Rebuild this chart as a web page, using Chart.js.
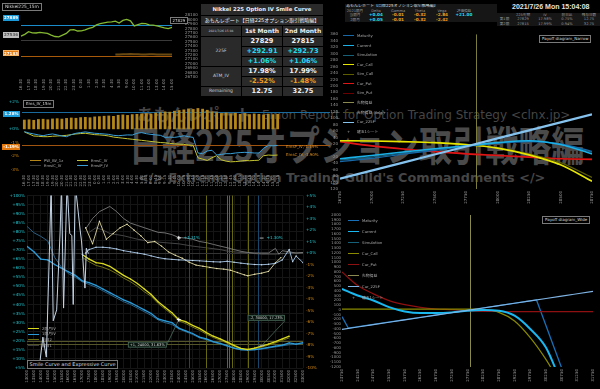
<!DOCTYPE html>
<html lang="ja"><head><meta charset="utf-8">
<title>Nikkei 225 Option IV Smile Curve</title>
<script src="https://cdn.jsdelivr.net/npm/chart.js@4.4.1/dist/chart.umd.min.js"></script>
<style>
*{box-sizing:border-box}
html,body{margin:0;padding:0;background:#000;overflow:hidden}
#root{position:relative;width:600px;height:389px;background:#000;font-family:"DejaVu Sans","Noto Sans CJK JP",sans-serif;color:#ccc;overflow:hidden}
canvas{position:absolute;display:block}
.wm{position:absolute;white-space:nowrap;line-height:1;color:#454545}
.box{position:absolute;white-space:nowrap;line-height:1;border:1px solid #7a7a7a;color:#ddd;background:#000;font-size:4px;padding:1px 2px}
.tag{position:absolute;white-space:nowrap;font-size:4px;line-height:5px;height:6px;text-align:center;color:#fff;font-weight:bold}
.lg{position:absolute;white-space:nowrap;font-size:3.8px;line-height:4px;color:#aaa}
.lg i{display:inline-block;width:11px;vertical-align:middle;margin-right:3px}
.txt{position:absolute;white-space:nowrap;line-height:1}
table.iv{position:absolute;left:200px;top:3px;width:121px;border-collapse:separate;border-spacing:1px;table-layout:fixed;background:#000}
table.iv td{background:#2a2a2a;padding:0;text-align:center;vertical-align:middle;line-height:1;white-space:nowrap;overflow:hidden}
.ttl{font-size:5.3px;font-weight:bold;color:#eee}
.sub{font-size:5px;color:#eee}
.dt{font-size:3px;color:#ccc}
.hd{font-size:6px;font-weight:bold;color:#eee}
.w{font-size:6.6px;font-weight:bold;color:#f2f2f2}
.c{color:#22dcee !important}
.o{color:#f0a020 !important}
.lb{font-size:4.5px;color:#cfcfcf}
table.hdr{position:absolute;border-collapse:separate;border-spacing:0.5px;table-layout:fixed;background:#333}
table.hdr td{background:#161616;padding:0 1px;font-size:3.6px;line-height:4.4px;height:4.6px;color:#999;white-space:nowrap;overflow:hidden;text-align:center}
table.hdr td.v{font-size:4.2px;font-weight:bold}
</style></head>
<body><div id="root">
<div class="wm" style="left:137px;top:106px;font-size:16.5px;font-weight:bold;font-family:'Noto Sans CJK JP',sans-serif">あもんレポート</div>
<div class="wm" style="left:262px;top:109px;font-size:12px;font-family:'DejaVu Sans',sans-serif">Emon Report for Option Trading Strategy &lt;clnx.jp&gt;</div>
<div class="wm" style="left:129px;top:122px;font-size:35px;font-weight:bold;font-family:'Noto Sans CJK JP',sans-serif;transform:scale(0.945,1.18);transform-origin:left top;color:#4a4a4a">日経225オプション取引戦略編</div>
<div class="wm" style="left:138px;top:172px;font-size:12.8px;font-weight:bold;font-family:'DejaVu Sans',sans-serif">&lt;/&gt; Extreme Option Trading Guild's Commandments &lt;/&gt;</div>

<canvas id="cA" width="200" height="95" style="left:0;top:0"></canvas>
<canvas id="cD" width="330" height="95" style="left:0;top:95px"></canvas>
<canvas id="cG" width="330" height="199" style="left:0;top:190px"></canvas>
<canvas id="cE" width="270" height="176" style="left:330px;top:30px"></canvas>
<canvas id="cF" width="270" height="183" style="left:330px;top:206px"></canvas>

<table class="iv">
<colgroup><col style="width:40px"><col style="width:40px"><col style="width:40px"></colgroup>
<tr style="height:11px"><td colspan="3" class="ttl">Nikkei 225 Option IV Smile Curve</td></tr>
<tr style="height:9px"><td colspan="3" class="sub">あもんレポート【日経225オプション取引戦略編】</td></tr>
<tr style="height:10px"><td class="dt">2021/7/26 15:04</td><td class="hd">1st Month</td><td class="hd">2nd Month</td></tr>
<tr style="height:9px"><td rowspan="3" class="lb">225F</td><td class="w">27829</td><td class="w">27815</td></tr>
<tr style="height:9px"><td class="w c">+292.91</td><td class="w c">+292.73</td></tr>
<tr style="height:9px"><td class="w c">+1.06%</td><td class="w c">+1.06%</td></tr>
<tr style="height:9px"><td rowspan="2" class="lb">ATM_IV</td><td class="w">17.98%</td><td class="w">17.99%</td></tr>
<tr style="height:9px"><td class="w o">-2.52%</td><td class="w o">-1.48%</td></tr>
<tr style="height:9px"><td class="lb">Remaining</td><td class="w">12.75</td><td class="w">32.75</td></tr>
</table>

<table class="hdr" style="left:345px;top:4px;width:152px">
<colgroup><col style="width:20px"><col style="width:22px"><col style="width:22px"><col style="width:22px"><col style="width:22px"><col style="width:22px"><col style="width:22px"></colgroup>
<tr><td colspan="7" style="text-align:left;color:#ddd;font-size:4px">あもんレポート【日経225オプション取引戦略編】</td></tr>
<tr><td>2021限月</td><td>Delta</td><td>Gamma</td><td>Theta</td><td>Vega</td><td>評価損益</td><td></td></tr>
<tr><td>当限月</td><td class="v c">+0.04</td><td class="v o">-0.01</td><td class="v o">-0.32</td><td class="v o">-2.84</td><td class="v c">+21.00</td><td></td></tr>
<tr><td>2限月</td><td class="v c">+0.05</td><td class="v o">-0.01</td><td class="v o">-0.32</td><td class="v o">-2.42</td><td></td><td></td></tr>
</table>
<table class="hdr" style="left:497px;top:12.5px;width:103px">
<colgroup><col style="width:15px"><col style="width:22px"><col style="width:22px"><col style="width:22px"><col style="width:22px"></colgroup>
<tr><td></td><td>225先物</td><td>IV</td><td>前日比</td><td>残存日数</td></tr>
<tr><td>第1限</td><td>27829</td><td>17.98%</td><td>0.75%</td><td>12.75</td></tr>
<tr><td>第2限</td><td>27815</td><td>17.99%</td><td>0.94%</td><td>32.75</td></tr>
</table>
<div class="txt" style="left:512px;top:3px;font-size:7px;font-weight:bold;color:#e2e2e2;font-family:'Liberation Sans',sans-serif">2021/7/26 Mon 15:04:08</div>

<div class="box" style="left:2px;top:3px;font-size:4.4px">Nikkei225_15m</div>
<div class="tag" style="left:3px;top:14.5px;width:16px;background:#1a9ad8">27889</div>
<div class="tag" style="left:3px;top:32px;width:16px;background:#bdbdbd;color:#555">27536</div>
<div class="tag" style="left:3px;top:50px;width:16px;background:#e2780e;border:0.5px solid #f5b060">27183</div>
<div class="box" style="left:170px;top:17px;padding:0.5px 1.5px">27829</div>

<div class="box" style="left:23px;top:100px">Ems_IV_15m</div>
<div class="tag" style="left:3px;top:110.5px;width:17px;background:#1a9ad8">1.28%</div>
<div class="tag" style="left:2px;top:144px;width:18px;background:#e2780e">-1.19%</div>
<div class="txt" style="left:286px;top:145px;font-size:4px;color:#e09020">EmsP_IV,-1.19%</div>
<div class="txt" style="left:286px;top:153px;font-size:4px;color:#e09020">EmsC_IV,-1.90%</div>

<div class="box" style="left:539px;top:35px">Payoff diagram_Narrow</div>
<div class="box" style="left:542px;top:216px">Payoff diagram_Wide</div>
<div class="box" style="left:27px;top:360px;font-size:5px;padding:1px 1.5px">Smile Curve and Expressive Curve</div>

<script>
// ---------------- data ----------------
const nkTimes=['16:30','17:00','17:30','18:00','18:30','19:00','19:30','20:00','20:30','21:00','21:30','22:00','22:30','23:00','23:30','0:00','0:30','1:00','1:30','2:00','2:30','3:00','3:30','4:00','4:30','5:00','5:30','6:00','9:00','9:30','10:00','10:30','11:00','11:30','12:00','12:30','13:00','13:30','14:00','14:30','15:00'];
const nk225=[27630,27670,27730,27705,27700,27715,27705,27690,27650,27620,27612,27650,27690,27770,27775,27745,27750,27770,27805,27830,27885,27915,27930,27945,27955,27970,27925,27985,28010,27975,27860,27890,27920,27915,27885,27880,27860,27840,27815,27800,27829];
const nkDay=[null,null,null,null,null,null,null,null,null,null,null,null,null,null,null,null,null,null,null,null,null,null,null,null,null,27210,27212,27215,27218,27220,27218,27215,27212,27214,27216,27215,27213,27212,27210,27212,27210];
const nkLevels=[27889,27536,27183];

const emsTimes=['16:30','17:00','17:30','18:00','18:30','19:00','19:30','20:00','20:30','21:00','21:30','22:00','22:30','23:00','23:30','0:00','0:30','1:00','1:30','2:00','2:30','3:00','3:30','4:00','4:30','5:00','5:30','6:00','8:45','9:00','9:15','9:30','9:45','10:00','10:15','10:30','10:45','11:00','11:15','11:30','11:45','12:00','12:15','12:30','12:45','13:00','13:15','13:30','13:45','14:00','14:15','14:30','14:45','15:00','15:15'];
const pwBars=[0.70,0.72,0.68,0.74,0.76,0.72,0.78,0.80,0.77,0.82,0.85,0.83,0.88,0.90,0.87,0.93,0.95,0.98,1.00,0.97,1.05,1.08,1.04,1.10,1.12,1.15,1.18,1.14,1.22,1.25,1.30,1.28,1.35,1.40,1.45,1.52,1.48,1.55,1.50,1.42,1.30,1.25,1.18,1.22,1.15,1.20,1.12,1.18,1.10,1.15,1.12,1.08,1.14,1.10,1.12];
const emsP=[-0.18,-0.28,-0.35,-0.42,-0.48,-0.4,-0.35,-0.42,-0.5,-0.55,-0.4,-0.3,-0.25,-0.2,-0.25,-0.3,-0.32,-0.35,-0.38,-0.45,-0.48,-0.45,-0.42,-0.43,-0.3,-0.25,-0.33,-0.38,-0.42,-0.45,-0.6,-0.58,-0.6,-0.55,-0.48,-0.55,-0.6,-1.75,-1.8,-1.6,-1.55,-1.9,-1.85,-1.8,-1.8,-1.75,-1.72,-1.7,-1.72,-1.75,-1.75,-1.4,-1.2,-1.22,-1.19];
const emsC=[-0.2,-0.35,-0.5,-0.52,-0.55,-0.55,-0.52,-0.5,-0.48,-0.45,-0.4,-0.35,-0.32,-0.3,-0.35,-0.4,-0.42,-0.45,-0.5,-0.58,-0.62,-0.66,-0.7,-0.74,-0.78,-0.82,-0.86,-0.9,-0.94,-0.98,-1.0,-1.04,-1.08,-1.1,-1.12,-1.16,-1.2,-2.1,-2.2,-2.3,-2.1,-1.95,-2.25,-2.35,-2.4,-2.38,-2.35,-2.3,-2.32,-2.3,-2.28,-1.95,-1.9,-1.92,-1.9];
const emsLevels=[1.28,-1.19];

const nK=[26750,27000,27250,27500,27750,28000,28250,28500,28750];
const nMaturity=[-35,-25,-12,0,12,22,27,20,-3];
const nCurrent=[-26,-16,-5,5,14,24,30,18,-11];
const nSimulation=[-30,-21,-9,2,13,23,29,19,-6];
const nCurCall=[30,29,27,24,18,7,-14,-45,-96];
const nSimCall=[30,29,27,24,18,8,-11,-38,-84];
const nCurPut=[27,14,4,-4,-11,-16,-21,-26,-28];
const nSimPut=[28,15,5,-3,-10,-15,-20,-25,-27];
const n225F=[-88,-63,-38,-13,12,37,62,87,112];
const futNow=27829;

const wK=[23750,24250,24750,25250,25750,26250,26750,27250,27750,28250,28750,29250,29750,30250,30750,31250,31750];
const wCurrent=[445,305,200,60,-30,-65,-65,-50,-15,0,-15,-120,-400,-790,-1550,null,null];
const wCurCall=[20,20,20,20,20,20,20,20,18,10,-50,-230,-580,-1040,-1600,null,null];
const wCurPut=[800,516,340,198,113,57,21,7,-14,-28,-32,-34,-35,-35,-35,-35,-35];
const w225F=[-408,-358,-308,-258,-208,-158,-108,-58,-8,42,92,142,192,242,292,342,392];
const wMatK=[23750,23950,29950,30750];
const wMaturity=[-140,-380,212,-1220];

const smileK=[13000,13500,14000,14500,15000,15500,16000,16500,17000,17500,18000,18500,19000,19500,20000,20500,21000,21500,22000,22500,23000,23500,24000,24500,25000,25500,26000,26500,27000,27500,28000,28500,29000,29500,30000,30500,31000,31500,32000,32500,33000];
const ivFront=[72,69,65,64.5,62,60,58,56,53,52,50.5,48.5,46.5,44.5,42.5,41,39,37,35,32,31,30,27,25.5,24,22,21,19.5,18.5,17.3,16,15.2,15,15.2,15.7,16.3,17,17.6,18.8,18.2,19];
const ivPrev1=[83,79.5,77.5,75,66,60.5,57,55,52.5,51,49.5,47.5,45.5,43.5,41.5,40,38,36,34,31.5,30,29,26.5,25,23.5,21.6,20.5,19.2,18.2,17,15.8,15,14.8,15,15.4,16,16.6,17.2,17.8,18,18.5];
const ivBack=[null,null,null,null,null,null,null,null,67.5,65,63,62.5,61,58.5,56,54,51.5,48.5,45.5,41.5,38.5,35.5,31.6,30.5,28.5,26.8,24.5,22.5,21,19.3,17.5,15.8,15.2,16,17,18.2,19.5,21,22.5,null,null];
const ivPrev2=[null,null,null,null,null,null,null,null,66,63.5,61.5,60.5,59,57,54.5,52.5,50,47,44.5,40.5,37.5,34.5,31,29.5,27.5,25.8,23.6,21.8,20.3,18.7,17,15.4,15,15.6,16.5,17.6,18.8,20.2,21.6,null,null];
const spikeK=[13900,14150,14400,14650,14750,14900,15150,15400,15500,15650,15900,16100,16250,16350,16500,16850,16950,17200,17300,17450];
const spikeIV=[6,22,11,76,106,31,37,80,106,38,106,79,78,40,106,81,75,49,71,68];
const chg1K=[17250,17500,18000,18500,19000,19500,20000,20500,21000,21500,22000,22500,23000,23500,24000,24500,25000,25500,26000,26500,27000,27500,28000,28500,29000,29500,30000,30500,31000,31500,32000,32250,32500,33000];
const chg1=[0.0,0.3,0.5,0.5,0.45,0.35,0.2,0.1,0.0,-0.1,-0.25,-0.4,-0.5,-0.55,-0.6,-0.62,-0.65,-0.68,-0.72,-0.76,-0.78,-0.72,-0.8,-0.88,-0.95,-1.0,-1.02,-0.98,-0.9,-0.6,0.32,-0.75,-0.26,-0.84];
const chg2K=[17250,17750,18250,18750,19250,19750,20250,20750,21250,21750,22250,22750,23250,23750,24250,24750,25250,25750,26250,26750,27250,27750,28250,28750,29000,29500,30000,30500,31000,31400];
const chg2=[2.2,0.8,2.76,1.2,1.7,2.2,2.5,2.0,1.5,0.9,1.0,0.6,0.1,-0.2,-0.45,-0.8,-1.05,-1.15,-1.25,-1.35,-1.4,-1.5,-1.7,-1.9,-1.98,-1.85,-1.75,-1.6,-0.85,-0.4];
const g1K=[17250,17750,18250,19000,19500,20000,20500,21000,21500,22000,22500,23000,23500,24000,24500,25000,25500,26000,26500,27000,27500,28000,28500,29000,29500,30000,30500,31000,31250,31500,32000,32500,33000];
const g1=[2.1,3.0,3.6,4.05,3.6,3.0,2.6,2.4,2.2,2.0,1.8,1.75,1.6,1.35,1.3,1.2,1.0,0.9,0.75,0.6,0.46,0.3,0.15,0.05,0,0,0,0.4,-0.1,0.2,0.1,0,0.05];
const g2K=[17500,18000,18500,19000,20000,21000,22000,22500,23000,24000,25000,26000,27000,27500,28000,29000,30000,31000,32000,33000];
const g2=[1.8,2.2,2.0,1.7,1.5,1.2,1.0,0.95,0.9,0.8,0.6,0.45,0.3,0.17,0.1,0,-0.1,-0.1,0,0];
const posStrikesBlue=[24750,29750];
const posStrikesYellow=[26000,27500,27625,27829,29000];
const atmLevels=[20.1,17.98];
const smileNotes=[
  {k:24000,v:31.63,axis:'y',glyph:'+',text:'+1, 24000, 31.63%',box:true,dx:-51,dy:22},
  {k:30000,v:17.23,axis:'y',glyph:'-',text:'-2, 30000, 17.23%',box:true,dx:-14,dy:-31},
  {k:24000,v:1.31,axis:'y2',glyph:'+',text:'+1.31%'},
  {k:30000,v:1.30,axis:'y2',glyph:'-',text:'+1.30%'}
];

// ---------------- helpers ----------------
const FONT="'DejaVu Sans','Noto Sans CJK JP',sans-serif";
Chart.defaults.font.family=FONT;
Chart.defaults.font.size=4;
Chart.defaults.color='#9a9a9a';
Chart.defaults.animation=false;
Chart.defaults.plugins.legend.display=false;
Chart.defaults.plugins.tooltip.enabled=false;
Chart.defaults.elements.point.radius=0;
Chart.defaults.elements.line.borderWidth=1;
const CY='#22c8d2', OR='#e0900f';
const pts=(xs,ys)=>xs.map((x,i)=>({x:x,y:ys[i]}));

function drawRefs(chart,list){
  const ctx=chart.ctx,a=chart.chartArea;
  ctx.save();
  list.forEach(r=>{
    const sc=chart.scales[r.axis];
    ctx.strokeStyle=r.color;ctx.lineWidth=r.w||1;ctx.beginPath();
    if(sc.isHorizontal()){const x=Math.round(sc.getPixelForValue(r.v))+0.5;ctx.moveTo(x,a.top);ctx.lineTo(x,a.bottom);}
    else{const y=Math.round(sc.getPixelForValue(r.v))+0.5;ctx.moveTo(a.left,y);ctx.lineTo(r.full?chart.width:a.right,y);}
    ctx.stroke();
  });
  ctx.restore();
}
const refLines={id:'refLines',
  beforeDatasetsDraw(chart,args,o){drawRefs(chart,o.under||[]);},
  afterDatasetsDraw(chart,args,o){drawRefs(chart,o.over||[]);}};

const smileMarks={id:'smileMarks',afterDatasetsDraw(chart,args,o){
  const ctx=chart.ctx,xs=chart.scales.x;
  ctx.save();
  (o.items||[]).forEach(m=>{
    const px=xs.getPixelForValue(m.k),py=chart.scales[m.axis].getPixelForValue(m.v);
    ctx.font='3.6px '+FONT;ctx.textBaseline='middle';
    if(m.box){
      const w=ctx.measureText(m.text).width+4,h=6,bx=px+m.dx,by=py+m.dy;
      ctx.strokeStyle='#4d6e5e';ctx.lineWidth=0.8;ctx.beginPath();ctx.moveTo(px,py);
      ctx.lineTo(m.dx<0?bx+w:bx+w/2,m.dy<0?by+h:by+h/2);ctx.stroke();
      ctx.fillStyle='#07140e';ctx.fillRect(bx,by,w,h);ctx.strokeRect(bx+0.5,by+0.5,w-1,h-1);
      ctx.fillStyle='#d8d8d8';ctx.fillText(m.text,bx+2,by+h/2+0.3);
    }else{
      ctx.fillStyle=CY;ctx.font='4px '+FONT;ctx.fillText(m.text,px+5,py+0.3);
    }
    ctx.strokeStyle=m.glyph==='+'?'#ffffff':'#aaaaaa';ctx.lineWidth=1;ctx.beginPath();
    ctx.moveTo(px-2,py);ctx.lineTo(px+2,py);
    if(m.glyph==='+'){ctx.moveTo(px,py-2);ctx.lineTo(px,py+2);}
    ctx.stroke();
  });
  ctx.restore();}};

function xTicks(extra){return Object.assign({autoSkip:false,minRotation:90,maxRotation:90,padding:2,font:{size:4},color:'#9a9a9a'},extra||{});}
const noGrid={display:false,drawTicks:false};
const noBorder={display:false};
const baseOpts=pad=>({responsive:false,devicePixelRatio:1,animation:false,layout:{padding:pad,autoPadding:false},plugins:{legend:{display:false},tooltip:{enabled:false}}});

// ---------------- Chart A: Nikkei225_15m ----------------
(function(){
  const o=baseOpts({left:21,top:6,right:0,bottom:0});
  o.scales={
    x:{type:'category',grid:noGrid,border:noBorder,ticks:xTicks({callback:(v,i)=>i%2===0?nkTimes[i]:''}),afterFit:s=>{s.height=18;}},
    y:{position:'right',min:26700,max:28100,grid:noGrid,border:noBorder,ticks:{stepSize:100,autoSkip:false,padding:13,font:{size:4},color:'#9a9a9a',callback:v=>String(v)},afterFit:s=>{s.width=28;}}
  };
  o.plugins.refLines={under:[
    {axis:'y',v:nkLevels[0],color:'#1a8ccc'},
    {axis:'y',v:nkLevels[1],color:'#3a3a3a'},
    {axis:'y',v:nkLevels[2],color:'#a85a0a'}]};
  new Chart(document.getElementById('cA'),{type:'line',data:{labels:nkTimes,datasets:[
    {data:nk225,borderColor:'#84b830',borderWidth:1.3},
    {data:nkDay,borderColor:'#6b4a12',borderWidth:2}
  ]},options:o,plugins:[refLines]});
})();

// ---------------- Chart D: Ems_IV_15m ----------------
(function(){
  const o=baseOpts({left:0,top:7,right:50,bottom:0});
  o.scales={
    x:{type:'category',offset:true,grid:noGrid,border:noBorder,ticks:xTicks({padding:5}),afterFit:s=>{s.height=20;}},
    y:{min:-3,max:2,grid:noGrid,border:noBorder,ticks:{stepSize:1,autoSkip:false,padding:3,font:{size:4.2},color:c=>c.tick.value>=0?CY:OR,callback:v=>(v>=0?'+':'')+v+'%'},afterFit:s=>{s.width=22;}}
  };
  o.plugins.refLines={under:[
    {axis:'y',v:emsLevels[0],color:'#1a6a9e',full:true},
    {axis:'y',v:emsLevels[1],color:'#a05410',full:true}]};
  new Chart(document.getElementById('cD'),{type:'bar',data:{labels:emsTimes,datasets:[
    {type:'line',label:'EmsiP_IV',data:emsP,borderColor:'#3a9fd8',borderWidth:1,order:0},
    {type:'line',label:'EmsC_IV',data:emsC,borderColor:'#c4c432',borderWidth:1,order:1},
    {type:'bar',label:'PW_IW_1z',data:pwBars,backgroundColor:'#b5871a',barPercentage:0.6,categoryPercentage:1,order:2}
  ]},options:o,plugins:[refLines]});
})();

// ---------------- Chart E: Payoff narrow ----------------
(function(){
  const o=baseOpts({left:0,top:4,right:8,bottom:0});
  o.scales={
    x:{type:'linear',min:26750,max:28750,grid:noGrid,border:noBorder,ticks:xTicks({stepSize:250,callback:v=>String(v)}),afterFit:s=>{s.height=17;}},
    y:{min:-120,max:360,grid:noGrid,border:noBorder,ticks:{stepSize:20,autoSkip:false,padding:2,font:{size:4},color:'#9a9a9a',callback:v=>String(v)},afterFit:s=>{s.width=10;}}
  };
  o.plugins.refLines={under:[{axis:'x',v:futNow,color:'#7c7c3c'}]};
  const mono={cubicInterpolationMode:'monotone'};
  new Chart(document.getElementById('cE'),{type:'line',data:{datasets:[
    Object.assign({label:'Cur_225F',data:pts(nK,n225F),borderColor:'#86c2ee',borderWidth:2.2},mono),
    Object.assign({label:'Current',data:pts(nK,nCurrent),borderColor:'#1ab0e8',borderWidth:1.6},mono),
    Object.assign({label:'Maturity',data:pts(nK,nMaturity),borderColor:'#1868a8',borderWidth:1.2},mono),
    Object.assign({label:'Simulation',data:pts(nK,nSimulation),borderColor:'#16607a',borderWidth:1.2},mono),
    Object.assign({label:'Cur_Call',data:pts(nK,nCurCall),borderColor:'#e6e600',borderWidth:1.6},mono),
    Object.assign({label:'Sim_Call',data:pts(nK,nSimCall),borderColor:'#5e5e00',borderWidth:1.2},mono),
    Object.assign({label:'Cur_Put',data:pts(nK,nCurPut),borderColor:'#e01616',borderWidth:1.6},mono),
    Object.assign({label:'Sim_Put',data:pts(nK,nSimPut),borderColor:'#6a0000',borderWidth:1.2},mono)
  ]},options:o,plugins:[refLines]});
})();

// ---------------- Chart F: Payoff wide ----------------
(function(){
  const o=baseOpts({left:0,top:9,right:7,bottom:0});
  o.scales={
    x:{type:'linear',min:23750,max:31750,grid:noGrid,border:noBorder,ticks:xTicks({stepSize:500,callback:v=>String(v)}),afterFit:s=>{s.height=22;}},
    y:{min:-1200,max:2000,grid:noGrid,border:noBorder,ticks:{stepSize:100,autoSkip:false,padding:1,font:{size:3.8},color:'#9a9a9a',callback:v=>String(v)},afterFit:s=>{s.width=12;}}
  };
  o.plugins.refLines={under:[{axis:'x',v:futNow,color:'#8a8a4a'}]};
  const mono={cubicInterpolationMode:'monotone'};
  new Chart(document.getElementById('cF'),{type:'line',data:{datasets:[
    {label:'Cur_225F',data:pts(wK,w225F),borderColor:'#7fb4e4',borderWidth:1.2},
    Object.assign({label:'Current',data:pts(wK,wCurrent),borderColor:'#1ab8f0',borderWidth:2},mono),
    Object.assign({label:'Cur_Call',data:pts(wK,wCurCall),borderColor:'#8a8a00',borderWidth:1.2},mono),
    Object.assign({label:'Cur_Put',data:pts(wK,wCurPut),borderColor:'#8e1010',borderWidth:1.2},mono),
    {label:'Maturity',data:pts(wMatK,wMaturity),borderColor:'#1870b8',borderWidth:1.3}
  ]},options:o,plugins:[refLines]});
})();

// ---------------- Chart G: Smile curve ----------------
(function(){
  const o=baseOpts({left:0,top:4,right:0,bottom:0});
  o.scales={
    x:{type:'linear',min:13000,max:33000,grid:{color:'#151515',drawTicks:false},border:noBorder,ticks:xTicks({stepSize:500,callback:v=>String(v)}),afterFit:s=>{s.height=21;}},
    y:{position:'left',min:5,max:100,grid:{color:'#151515',drawTicks:false},border:noBorder,ticks:{stepSize:5,autoSkip:false,padding:2,font:{size:4.2},color:CY,callback:v=>'+'+v+'%'},afterFit:s=>{s.width=27;}},
    y2:{position:'right',min:-10,max:5,grid:{display:false,drawTicks:false},border:noBorder,ticks:{stepSize:1,autoSkip:false,padding:3,font:{size:4.2},color:c=>c.tick.value>=0?CY:OR,callback:v=>(v>=0?'+':'')+v+'%'},afterFit:s=>{s.width=27;}}
  };
  const under=[];
  posStrikesBlue.forEach(k=>under.push({axis:'x',v:k,color:'#17476a'}));
  posStrikesYellow.forEach(k=>under.push({axis:'x',v:k,color:'#67670f'}));
  under.push({axis:'y2',v:0,color:'#333333'});
  atmLevels.forEach(v=>under.push({axis:'y',v:v,color:'#55552a'}));
  o.plugins.refLines={under:under};
  o.plugins.smileMarks={items:smileNotes};
  const dot={pointRadius:0.7,pointBorderWidth:0};
  new Chart(document.getElementById('cG'),{type:'line',data:{datasets:[
    {label:'spike',data:pts(spikeK,spikeIV),borderColor:'#c4d4e6',borderWidth:1,yAxisID:'y'},
    Object.assign({label:'2限月IV',data:pts(smileK,ivBack),borderColor:'#d8d81e',pointBackgroundColor:'#d8d81e',borderWidth:1.3,yAxisID:'y'},dot),
    Object.assign({label:'1限月IV',data:pts(smileK,ivFront),borderColor:'#2a9ad8',pointBackgroundColor:'#2a9ad8',borderWidth:1.3,yAxisID:'y'},dot),
    {label:'前日2',data:pts(smileK,ivPrev2),borderColor:'#6e6e12',borderWidth:1,yAxisID:'y'},
    {label:'前日1',data:pts(smileK,ivPrev1),borderColor:'#2a5f84',borderWidth:1,yAxisID:'y'},
    Object.assign({label:'chg1',data:pts(chg1K,chg1),borderColor:'#a8c8ea',pointBackgroundColor:'#c8dcf0',borderWidth:0.9,yAxisID:'y2'},dot),
    Object.assign({label:'chg2',data:pts(chg2K,chg2),borderColor:'#ddd6a0',pointBackgroundColor:'#eee6b0',borderWidth:0.9,yAxisID:'y2'},dot),
    {label:'g1',data:pts(g1K,g1),borderColor:'#8a8a8a',borderWidth:0.8,yAxisID:'y2'},
    {label:'g2',data:pts(g2K,g2),borderColor:'#555555',borderWidth:0.8,yAxisID:'y2'}
  ]},options:o,plugins:[refLines,smileMarks]});
})();

// ---------------- HTML legends ----------------
const root=document.getElementById('root');
function legend(items,x,y0,dy){
  items.forEach((it,i)=>{
    const d=document.createElement('div');d.className='lg';
    d.style.left=x+'px';d.style.top=(y0+i*dy-2)+'px';
    d.innerHTML=(it.c?'<i style="background:'+it.c+';height:'+(it.w||1)+'px"></i>':'<span style="display:inline-block;width:11px;margin-right:3px;text-align:center;color:#aaa">+</span>')+it.n;
    root.appendChild(d);
  });
}
legend([{n:'Maturity',c:'#1868a8'},{n:'Current',c:'#1ab0e8'},{n:'Simulation',c:'#16607a'},{n:'Cur_Call',c:'#e6e600'},{n:'Sim_Call',c:'#5e5e00'},{n:'Cur_Put',c:'#e01616'},{n:'Sim_Put',c:'#6a0000'},{n:'先物損益',c:'#8a8a50'},{n:'先物損益 (Sdg.)',c:'#4a4a20'},{n:'Cur_225F',c:'#86c2ee'},{n:'建玉1シート'}],343,36,9.57);
legend([{n:'Maturity',c:'#1870b8'},{n:'Current',c:'#1ab8f0'},{n:'Simulation',c:'#16607a'},{n:'Cur_Call',c:'#8a8a00'},{n:'Cur_Put',c:'#8e1010'},{n:'先物損益',c:'#8a8a50'},{n:'Cur_225F',c:'#7fb4e4'},{n:'建玉1シート'}],348,221,11);
legend([{n:'2限月IV',c:'#d8d81e'},{n:'1限月IV',c:'#2a9ad8'},{n:'前日2',c:'#6e6e12'},{n:'前日1',c:'#3a3a3a'}],28,328.5,5.7);
legend([{n:'PW_IW_1z',c:'#b5871a'},{n:'EmsiC_IV',c:'#3a3a3a'}],30,160.5,5);
legend([{n:'EmsC_IV',c:'#c4c432'},{n:'EmsiP_IV',c:'#3a9fd8'}],77,160.5,5);
</script>
</div></body></html>
